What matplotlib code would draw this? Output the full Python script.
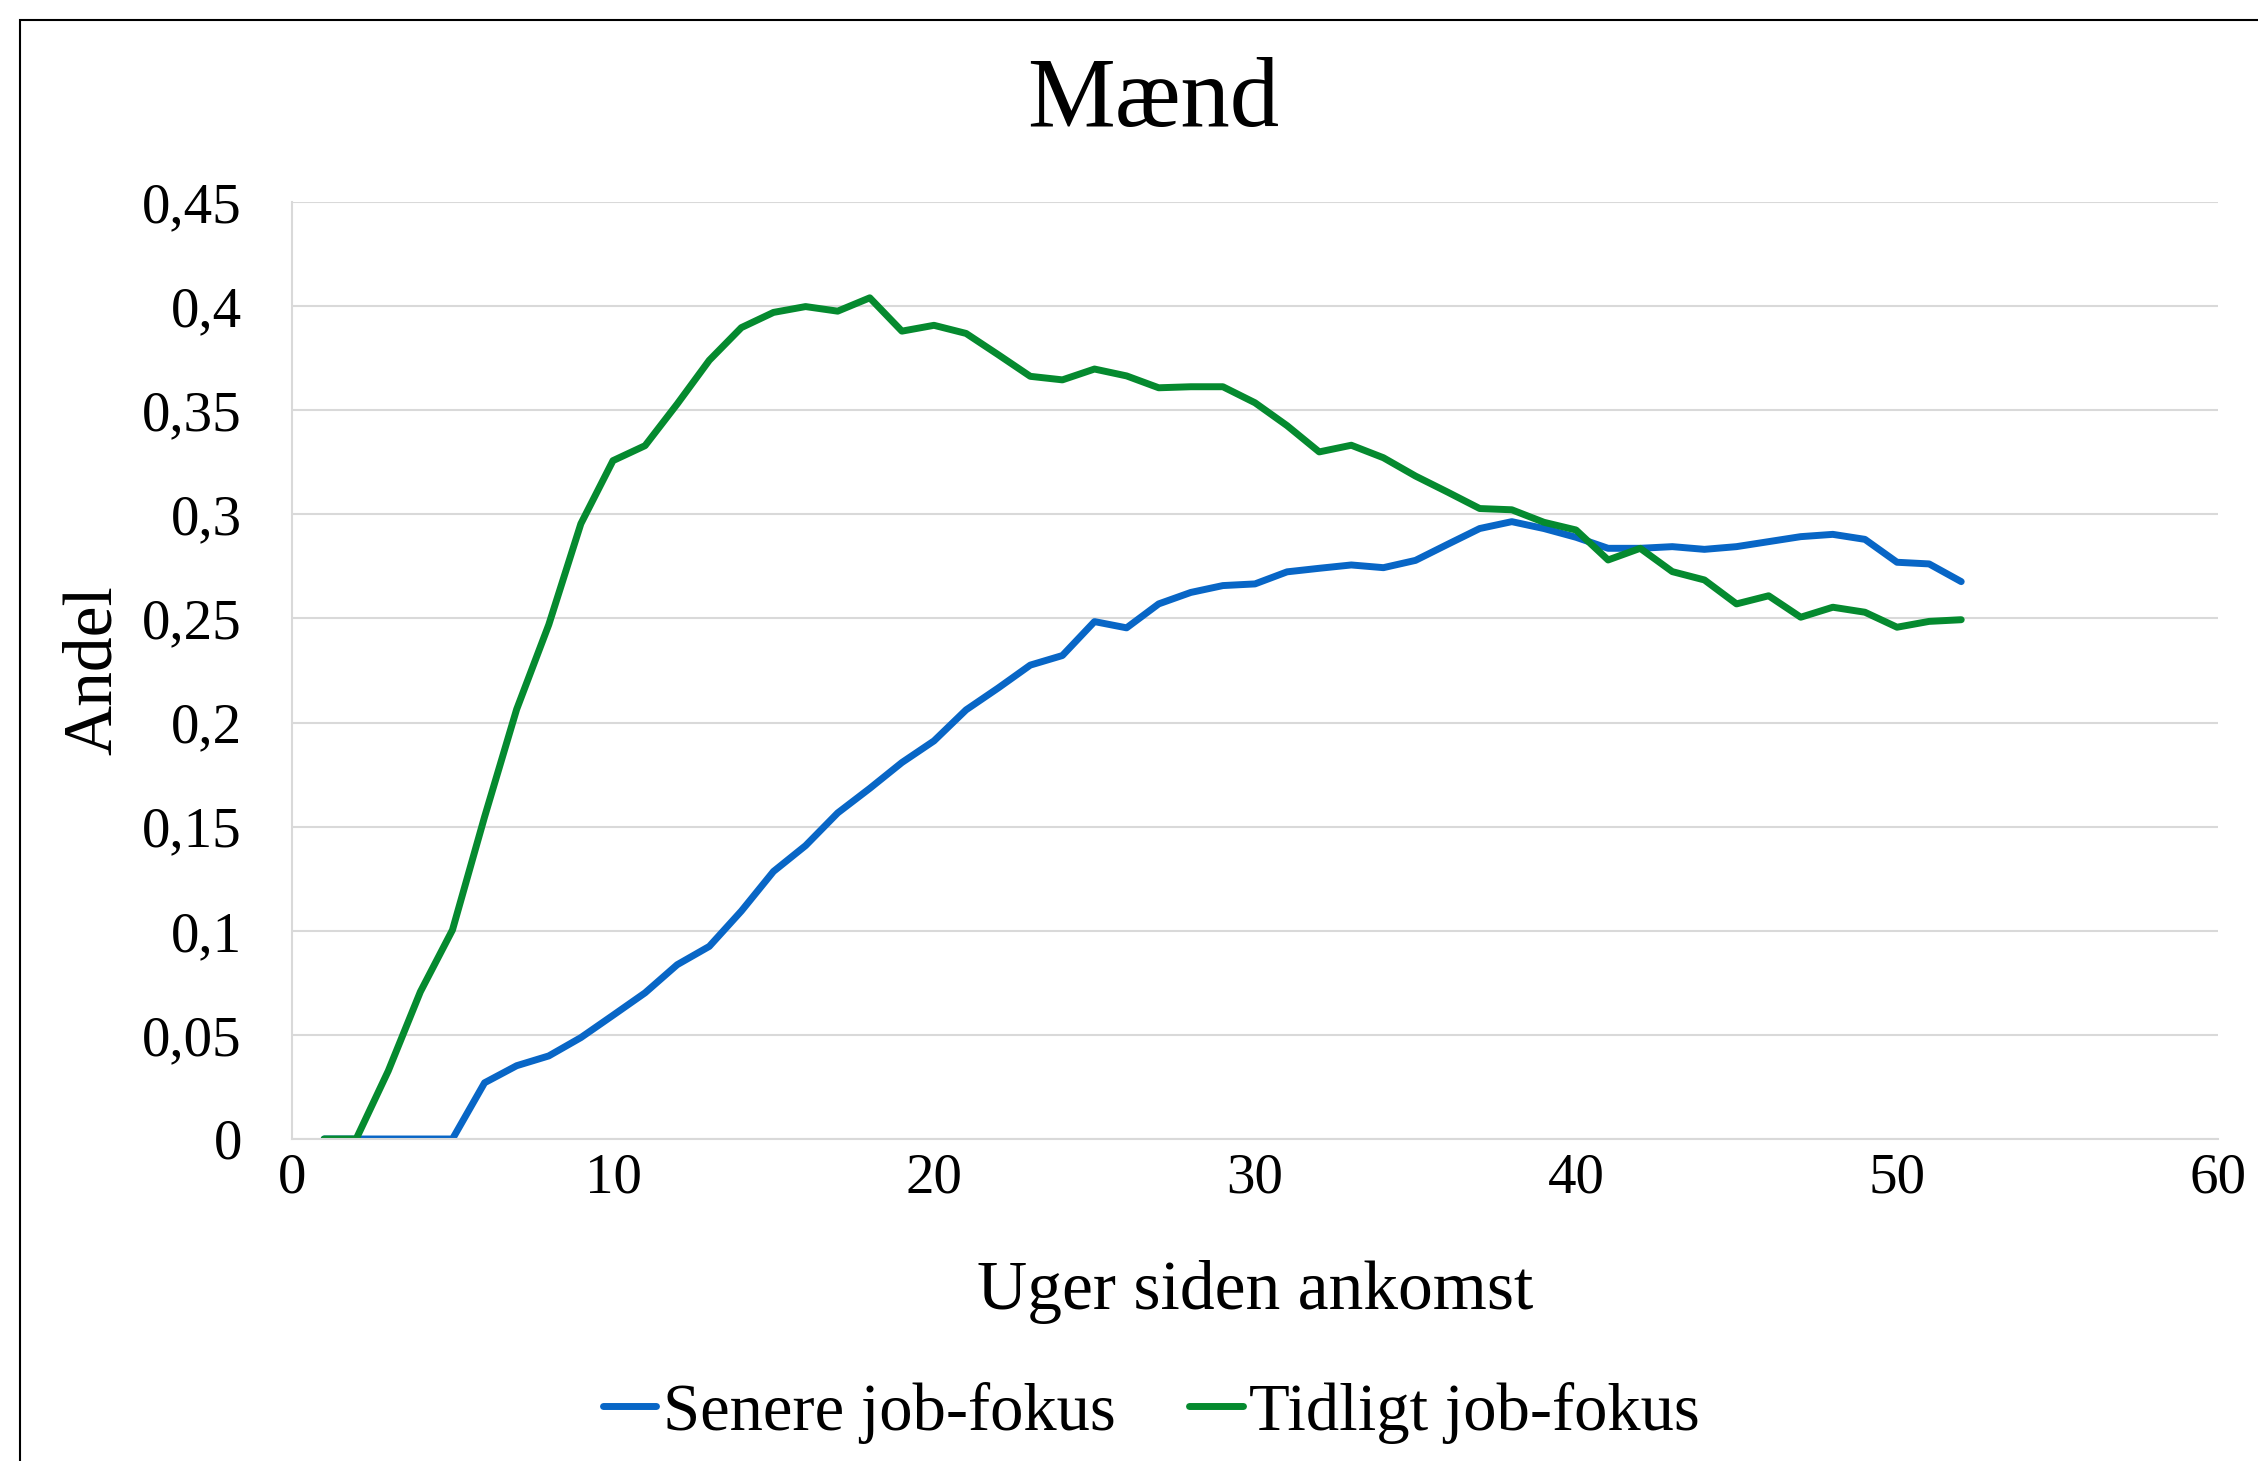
import matplotlib
matplotlib.use("Agg")
import matplotlib.pyplot as plt
from matplotlib.ticker import FuncFormatter
from matplotlib.patches import Rectangle

# Andel i job efter uger siden ankomst - maend
weeks = list(range(1, 53))

senere = [0, 0, 0, 0, 0, 0.027, 0.0352, 0.0399, 0.0487, 0.0594,
          0.0702, 0.0837, 0.0925, 0.1095, 0.1285, 0.1409, 0.1566, 0.1684, 0.1808, 0.1912,
          0.2061, 0.2166, 0.2276, 0.2322, 0.2485, 0.2455, 0.257, 0.2625, 0.2658, 0.2666,
          0.2724, 0.2741, 0.2757, 0.2744, 0.2779, 0.2856, 0.2932, 0.2965, 0.2932, 0.289,
          0.2837, 0.2837, 0.2845, 0.2832, 0.2845, 0.2869, 0.2893, 0.2904, 0.288, 0.277,
          0.2762, 0.2677]

tidligt = [0, 0, 0.0327, 0.0707, 0.1004, 0.1547, 0.2064, 0.247, 0.2955, 0.3258,
           0.333, 0.353, 0.374, 0.3897, 0.397, 0.3998, 0.3976, 0.404, 0.388, 0.3908,
           0.3869, 0.3767, 0.3663, 0.3646, 0.3698, 0.3665, 0.3608, 0.3613, 0.3613, 0.3536,
           0.3426, 0.33, 0.3332, 0.3272, 0.3184, 0.3107, 0.3028, 0.3022, 0.2962, 0.2925,
           0.2781, 0.2837, 0.2725, 0.2685, 0.257, 0.2609, 0.2506, 0.2554, 0.253, 0.2458,
           0.2486, 0.2494]

title = "Mænd"
xlabel = "Uger siden ankomst"
ylabel = "Andel"
labels = ["Senere job-fokus", "Tidligt job-fokus"]

plt.rcParams['font.family'] = ['Liberation Serif', 'DejaVu Serif']

fig = plt.figure(figsize=(22.58, 14.61), dpi=100)
ax = fig.add_axes([0.1293, 0.2204, 0.8530, 0.6413])

ax.plot(weeks, senere, color='#0866C6', lw=5, label=labels[0], solid_capstyle='round')
ax.plot(weeks, tidligt, color='#058A2F', lw=5, label=labels[1], solid_capstyle='round')

ax.set_xlim(0, 60)
ax.set_ylim(0, 0.45)
ax.set_xticks(range(0, 61, 10))
ax.set_yticks([i * 0.05 for i in range(10)])
ax.yaxis.set_major_formatter(FuncFormatter(lambda v, p: ('%g' % round(v, 2)).replace('.', ',')))

ax.grid(axis='y', color='#D9D9D9', lw=1.5)
ax.set_axisbelow(True)
for s in ['top', 'right']:
    ax.spines[s].set_visible(False)
ax.spines['left'].set_color('#D9D9D9')
ax.spines['bottom'].set_color('#D9D9D9')
ax.spines['left'].set_linewidth(1.5)
ax.spines['bottom'].set_linewidth(1.5)
ax.tick_params(axis='both', length=0, labelsize=41)
ax.tick_params(axis='y', pad=36)
ax.tick_params(axis='x', pad=10)

ax.set_xlabel(xlabel, fontsize=50, labelpad=40)
ax.set_ylabel(ylabel, fontsize=50, labelpad=12)
fig.text(0.5105, 0.93, title, fontsize=71, ha='center', va='center')

fig.legend(loc='center', bbox_to_anchor=(0.51, 0.033), ncol=2, frameon=False,
           fontsize=48, handlelength=0.8, handletextpad=0.1, columnspacing=1.1)

# chart border
fig.patches.append(Rectangle((20 / 2258, -0.05), 1.1, 1.05 - 20 / 1461, transform=fig.transFigure,
                             fill=False, edgecolor='black', lw=1.5))

fig.savefig('out.png', dpi=100)
